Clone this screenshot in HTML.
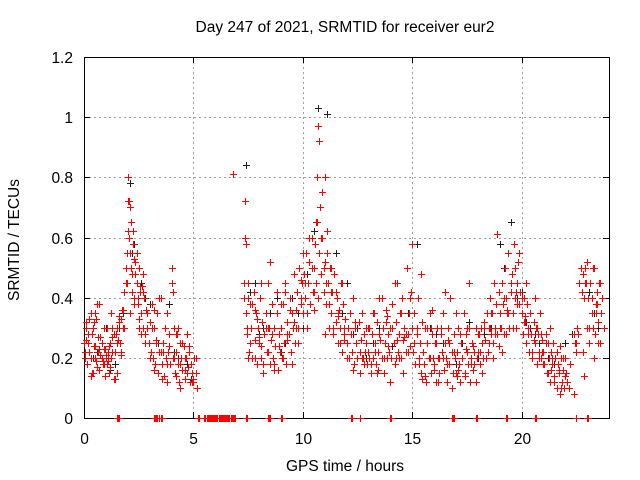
<!DOCTYPE html>
<html><head><meta charset="utf-8"><style>
body{margin:0;background:#fff}
svg{display:block;font-family:"Liberation Sans",sans-serif}
</style></head><body>
<svg id="chart" width="640" height="480" viewBox="0 0 640 480">
<rect width="640" height="480" fill="#fff"/>
<text x="345" y="32" font-size="15.5" text-anchor="middle">Day 247 of 2021, SRMTID for receiver eur2</text>
<text x="345" y="471" font-size="15.5" text-anchor="middle">GPS time / hours</text>
<text x="19" y="240" font-size="15.5" text-anchor="middle" transform="rotate(-90 19 240)">SRMTID / TECUs</text>
<g id="grid"></g>
<rect x="84.5" y="57.5" width="525" height="361" fill="none" stroke="#000" stroke-width="1"/>
<g id="ticks"></g>
<g id="black" stroke="#222" stroke-width="1" fill="none"></g>
<g id="red" stroke="#ff0000" stroke-width="1" fill="none"></g>
</svg>
<script>
const xTicks=[0,5,10,15,20];
const yTicks=[0,0.2,0.4,0.6,0.8,1,1.2];
const yTickLabels=["0","0.2","0.4","0.6","0.8","1","1.2"];
const redT=[0.05,0.1,0.15,0.2,0.25,0.3,0.35,0.4,0.45,0.5,0.55,0.6,0.65,0.7,0.75,0.8,0.85,0.9,0.95,1.0,1.05,1.1,1.15,1.2,1.25,1.3,1.35,1.4,1.5,1.6,1.7,1.8,1.85,1.9,1.95,2.0,2.02,2.05,2.1,2.15,2.2,2.25,2.3,2.35,2.4,2.45,2.5,2.55,2.6,2.7,2.8,2.9,3.0,3.1,3.2,3.3,3.45,3.55,3.6,3.7,3.8,3.9,4.0,4.05,4.1,4.2,4.3,4.4,4.5,4.6,4.7,4.8,4.9,5.0,5.1,
0.1,0.3,0.5,0.7,0.9,1.1,1.3,1.5,1.7,2.1,2.3,2.5,2.7,3.2,3.5,3.8,4.2,4.4,4.6,4.8,4.95,
6.8,7.3,7.35,7.4,7.45,7.5,7.6,7.7,7.8,7.9,8.0,8.1,8.2,8.3,8.4,8.5,8.6,8.7,8.8,8.9,9.0,9.1,9.2,9.3,9.4,9.5,9.6,9.7,9.8,9.9,10.0,10.1,10.2,10.3,10.4,10.5,10.6,10.65,10.7,10.75,10.8,10.85,10.9,10.95,11.0,11.05,11.1,11.2,11.3,11.4,11.5,11.6,11.7,11.8,11.9,12.0,12.2,12.4,12.6,12.8,
7.5,7.8,8.1,8.4,8.7,9.0,9.3,9.6,9.9,10.2,10.5,10.7,11.0,11.3,11.6,11.9,12.3,12.7,
12.9,13.0,13.1,13.2,13.3,13.4,13.5,13.6,13.7,13.8,13.9,14.0,14.1,14.2,14.3,14.4,14.5,14.6,14.7,14.8,14.9,15.0,15.1,15.2,15.3,15.4,15.5,15.6,15.7,15.8,15.9,16.0,16.1,16.2,16.3,16.4,16.5,16.6,16.7,16.8,16.9,17.0,17.1,17.2,17.3,17.4,17.5,17.6,17.7,17.8,17.9,
13.05,13.45,13.85,14.25,14.65,15.05,15.45,15.85,16.25,16.65,17.05,17.45,17.85,
18.0,18.1,18.2,18.3,18.4,18.5,18.6,18.7,18.8,18.9,19.0,19.1,19.2,19.3,19.4,19.5,19.6,19.7,19.8,19.9,20.0,20.1,20.2,20.3,20.4,20.5,20.6,20.7,20.8,20.9,21.0,21.1,21.2,21.3,21.4,21.5,21.6,21.7,21.8,21.9,22.0,22.4,22.5,22.6,22.8,22.9,23.0,23.1,23.2,23.3,23.4,23.5,23.6,
18.15,18.55,18.95,19.35,19.75,20.15,20.55,20.95,21.35,21.75,22.85,23.25,23.45];
const redV=[0.22,0.3,0.18,0.25,0.33,0.2,0.28,0.15,0.32,0.24,0.19,0.38,0.22,0.16,0.27,0.2,0.18,0.23,0.14,0.21,0.3,0.19,0.24,0.17,0.35,0.22,0.28,0.13,0.25,0.32,0.22,0.36,0.3,0.45,0.55,0.8,0.72,0.6,0.7,0.5,0.42,0.62,0.38,0.48,0.55,0.4,0.33,0.44,0.28,0.42,0.25,0.35,0.2,0.3,0.16,0.25,0.4,0.13,0.22,0.3,0.18,0.24,0.5,0.42,0.2,0.14,0.3,0.18,0.25,0.2,0.15,0.22,0.18,0.13,0.2,
0.26,0.14,0.35,0.23,0.18,0.2,0.27,0.15,0.21,0.35,0.53,0.3,0.48,0.36,0.22,0.12,0.28,0.1,0.16,0.24,0.12,
0.81,0.4,0.72,0.58,0.3,0.45,0.25,0.38,0.2,0.33,0.27,0.45,0.18,0.3,0.22,0.52,0.28,0.16,0.35,0.24,0.3,0.2,0.42,0.28,0.36,0.18,0.48,0.3,0.25,0.4,0.55,0.45,0.35,0.6,0.5,0.42,0.65,0.8,0.97,0.92,0.7,0.6,0.75,0.5,0.8,0.45,0.55,0.38,0.5,0.3,0.42,0.35,0.25,0.45,0.3,0.2,0.28,0.32,0.22,0.18,
0.2,0.36,0.24,0.3,0.18,0.38,0.26,0.32,0.46,0.3,0.36,0.4,0.28,0.42,0.34,0.26,0.16,0.2,
0.25,0.3,0.18,0.35,0.22,0.15,0.28,0.4,0.2,0.32,0.24,0.12,0.3,0.45,0.26,0.2,0.35,0.15,0.28,0.22,0.4,0.58,0.25,0.3,0.18,0.48,0.22,0.14,0.3,0.2,0.36,0.16,0.25,0.12,0.3,0.2,0.42,0.18,0.25,0.1,0.22,0.35,0.16,0.28,0.2,0.14,0.3,0.45,0.18,0.24,0.12,0.2,
0.16,0.34,0.2,0.27,0.22,0.13,0.3,0.2,0.26,0.14,0.23,0.18,0.28,
0.22,0.15,0.3,0.2,0.25,0.35,0.2,0.28,0.61,0.3,0.22,0.4,0.28,0.35,0.45,0.3,0.5,0.38,0.55,0.4,0.32,0.45,0.28,0.35,0.22,0.4,0.3,0.2,0.28,0.18,0.25,0.15,0.3,0.2,0.12,0.22,0.16,0.1,0.2,0.14,0.08,0.25,0.28,0.22,0.45,0.52,0.3,0.4,0.2,0.35,0.25,0.45,0.3,
0.3,0.24,0.36,0.42,0.34,0.26,0.22,0.16,0.24,0.14,0.5,0.38,0.28];
/* dense series: one value per 0.05 h slot, null = no sample */
const denseStep=0.05;
const denseV=[
0.25,0.2,0.32,0.18,0.28,0.22,0.35,0.15,0.3,0.24,0.2,0.33,0.17,0.27,0.38,0.21,0.25,0.19,0.3,0.23,
0.2,0.18,0.22,0.15,0.25,0.2,0.3,0.13,0.22,0.28,0.3,0.26,0.34,0.25,0.33,0.36,0.3,0.42,0.5,0.45,
0.62,0.72,0.55,0.65,0.48,0.58,0.4,0.52,0.45,0.38,0.5,0.42,0.35,0.44,0.3,0.4,0.28,0.36,0.3,0.25,
0.32,0.22,0.38,0.2,0.3,0.18,0.26,0.35,0.15,0.22,0.4,0.18,0.25,0.14,0.3,0.2,0.35,0.22,0.28,0.18,
0.45,0.2,0.3,0.15,0.22,0.28,0.18,0.12,0.25,0.2,0.16,0.24,0.13,0.2,0.28,0.17,0.22,0.12,0.18,0.15,
0.12,0.2,0.15,0.1,0,null,null,null,null,null,0,0,0,0,0,0,0,0,0,0,
0,0,0,0,0,0,0,0,0,0,0,0,0,0,0,0,0,0,0,null,
null,null,null,null,null,null,0.45,0.6,0.35,0.28,0.4,0.22,0.38,0.3,0.2,0.42,0.26,0.35,0.18,0.3,
0.25,0.4,0.2,0.32,0.15,0.28,0.35,0.22,0.45,0.3,0.18,0.26,0.38,0.2,0.3,0.24,0.42,0.16,0.28,0.22,
0.3,0.2,0.38,0.25,0.45,0.18,0.32,0.28,0.4,0.22,0.35,0.3,0.48,0.25,0.36,0.42,0.3,0.5,0.38,0.45,
0.35,0.48,0.4,0.55,0.3,0.45,0.52,0.38,0.6,0.42,0.5,0.58,0.45,0.65,0.4,0.55,0.7,0.48,0.6,0.42,
0.52,0.38,0.62,0.45,0.3,0.5,0.35,0.42,0.28,0.48,0.32,0.4,0.25,0.36,0.3,0.45,0.22,0.38,0.28,0.33,
0.25,0.3,0.2,0.35,0.28,0.22,0.4,0.18,0.3,0.25,0.2,0.32,0.15,0.26,0.35,0.2,0.28,0.22,0.3,0.18,
0.22,0.3,0.15,0.28,0.2,0.35,0.25,0.18,0.32,0.22,0.4,0.26,0.2,0.3,0.15,0.25,0.36,0.2,0.28,0.22,
0.3,0.2,0.38,0.25,0.18,0.32,0.45,0.22,0.28,0.35,0.2,0.4,0.26,0.3,0.22,0.5,0.28,0.35,0.24,0.42,
0.3,0.22,0.35,0.18,0.28,0.4,0.2,0.25,0.15,0.32,0.22,0.18,0.3,0.12,0.25,0.2,0.35,0.15,0.28,0.2,
0.18,0.25,0.12,0.3,0.2,0.15,0.28,0.22,0.35,0.16,0.25,0.2,0.12,0.3,0.18,0.4,0.22,0.15,0.28,0.2,
0.15,0.22,0.3,0.18,0.12,0.25,0.2,0.35,0.15,0.28,0.22,0.18,0.3,0.12,0.2,0.25,0.16,0.22,0.3,0.2,
0.22,0.28,0.18,0.3,0.25,0.2,0.32,0.26,0.35,0.22,0.3,0.4,0.28,0.35,0.25,0.45,0.3,0.38,0.28,0.42,
0.35,0.3,0.45,0.38,0.28,0.5,0.4,0.35,0.55,0.3,0.42,0.48,0.35,0.58,0.4,0.3,0.45,0.52,0.38,0.42,
0.35,0.28,0.4,0.32,0.25,0.38,0.3,0.22,0.35,0.28,0.2,0.32,0.25,0.3,0.18,0.28,0.22,0.35,0.2,0.26,
0.22,0.18,0.28,0.15,0.25,0.2,0.12,0.22,0.18,0.25,0.14,0.2,0.1,0.18,0.15,0.08,0.2,0.12,0.16,0.1,
0.2,0.15,0.12,0.1,0.18,null,null,null,0.28,0.25,0.22,0.3,0.28,0.45,0.5,0.42,0.48,0.4,0.5,0.45,
0.3,0.4,0.25,0.45,0.35,0.3,0.5,0.28,0.38,0.42,0.32,0.45,0.25,0.35,0.4,0.3,null,null,null,null];
const zeroT=[1.5,1.55,1.6,3.2,3.25,3.3,3.35,3.45,3.5,3.55,5.2,5.25,5.5,5.55,5.6,5.65,5.7,5.75,5.8,5.85,5.9,5.95,6.0,6.05,6.1,6.15,6.2,6.25,6.3,6.35,6.4,6.45,6.5,6.55,6.6,6.65,6.7,6.75,6.8,6.85,6.9,7.4,7.45,8.4,8.45,8.5,9.0,9.05,12.2,12.25,12.6,14.0,14.05,16.8,16.85,16.9,17.9,17.95,19.3,19.35,20.6,20.65,22.5,23.0,23.05];
const blackT=[0.2,0.6,1.0,1.4,1.8,2.1,2.3,2.6,3.0,3.7,4.1,4.5,4.9,7.4,7.6,8.0,8.5,9.0,9.5,10.0,10.4,10.7,10.9,11.1,11.5,12.0,12.5,13.2,13.8,14.5,15.2,15.8,16.4,17.0,17.6,18.3,19.0,19.5,20.0,20.4,20.8,21.2,21.7,22.3,22.9,23.3,
0.4,0.8,1.2,1.6,2.2,2.8,3.4,3.9,4.3,4.7,7.8,8.2,8.8,9.2,9.8,10.2,10.5,11.3,11.8,12.3,12.9,13.5,14.1,14.8,15.5,16.1,16.7,17.3,18.0,18.6,19.2,19.8,20.2,20.6,21.0,21.5,22.0,23.1,23.5];
const blackV=[0.28,0.22,0.3,0.18,0.35,0.78,0.58,0.45,0.38,0.3,0.22,0.16,0.13,0.84,0.42,0.28,0.35,0.22,0.4,0.3,0.5,1.03,0.75,1.01,0.55,0.45,0.3,0.25,0.32,0.2,0.58,0.3,0.25,0.18,0.32,0.28,0.58,0.65,0.42,0.3,0.25,0.2,0.15,0.28,0.5,0.35,
0.2,0.25,0.16,0.3,0.55,0.4,0.25,0.38,0.2,0.18,0.45,0.3,0.4,0.25,0.35,0.48,0.62,0.42,0.35,0.28,0.2,0.3,0.24,0.35,0.22,0.28,0.18,0.25,0.2,0.3,0.5,0.4,0.32,0.28,0.22,0.18,0.25,0.42,0.3];
const X0=84,X1=609,Y0=418,Y1=57;
const xs=h=>X0+(h/24)*(X1-X0);
const ys=v=>Y0-(v/1.2)*(Y0-Y1);
const NS="http://www.w3.org/2000/svg";
function mk(tag,attrs,parent){const e=document.createElementNS(NS,tag);for(const k in attrs)e.setAttribute(k,attrs[k]);parent.appendChild(e);return e;}
const grid=document.getElementById('grid'),ticks=document.getElementById('ticks');
xTicks.forEach(t=>{const x=Math.round(xs(t))+0.5;
 if(t>0){const g=mk('line',{x1:x,x2:x,y1:Y1,y2:Y0,stroke:'#a0a0a0','stroke-dasharray':'2,3'},grid);
 
 }
 const l=mk('text',{x:x,y:444,'font-size':15.5,'text-anchor':'middle'},ticks);l.textContent=t;
 
 
 mk('line',{x1:x,x2:x,y1:Y0,y2:Y0-6,stroke:'#000'},ticks);
 mk('line',{x1:x,x2:x,y1:Y1,y2:Y1+6,stroke:'#000'},ticks);});
yTicks.forEach((t,i)=>{const y=Math.round(ys(t))+0.5;
 if(t>0&&t<1.2){const g=mk('line',{x1:X0,x2:X1,y1:y,y2:y,stroke:'#a0a0a0','stroke-dasharray':'2,3'},grid);
 
 }
 const l=mk('text',{x:73,y:y+5.5,'font-size':15.5,'text-anchor':'end'},ticks);l.textContent=yTickLabels[i];
 
 
 mk('line',{x1:X0,x2:X0+6,y1:y,y2:y,stroke:'#000'},ticks);
 mk('line',{x1:X1,x2:X1-6,y1:y,y2:y,stroke:'#000'},ticks);});
function plus(g,h,v){const x=Math.round(xs(h))+0.5,y=Math.round(ys(v))+0.5;
 const p=mk('path',{d:`M${x-3.5} ${y}h7M${x} ${y-3.5}v7`},g);
 
 }
const bg=document.getElementById('black'),rg=document.getElementById('red');
blackT.forEach((h,i)=>plus(bg,h,blackV[i]));
redT.forEach((h,i)=>plus(rg,h,redV[i]));
denseV.forEach((v,i)=>{if(v!==null)plus(rg,i*denseStep,v);});
zeroT.forEach(h=>plus(rg,h,0));
</script>
</body></html>
